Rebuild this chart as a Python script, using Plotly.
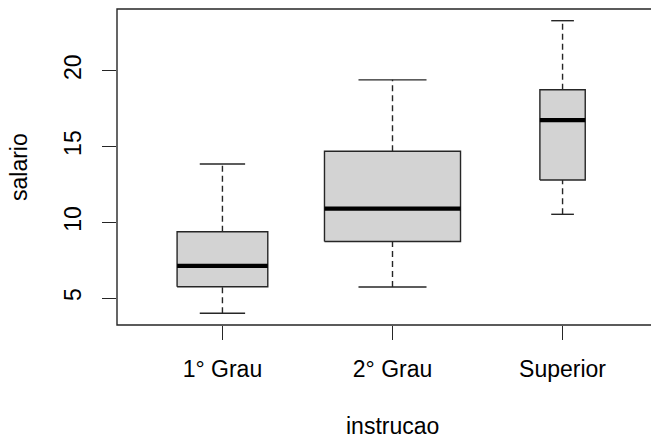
import math
import plotly.graph_objects as go

# Data (milsa): salario by instrucao
categories = ["1° Grau", "2° Grau", "Superior"]
sal_1grau = [4.00, 4.56, 5.25, 6.26, 6.66, 6.86, 7.39, 7.44, 8.95, 9.80, 12.00, 13.85]
sal_2grau = [5.73, 7.59, 8.12, 8.46, 8.74, 9.13, 9.35, 9.77, 10.76, 11.06, 11.59,
             13.23, 13.60, 14.69, 14.71, 15.99, 16.61, 19.40]
sal_superior = [10.53, 12.79, 16.22, 17.26, 18.75, 23.30]
groups = [sal_1grau, sal_2grau, sal_superior]
y_ticks = [5, 10, 15, 20]


def fivenum(v):
    x = sorted(v)
    n = len(x)
    n4 = math.floor((n + 3) / 2) / 2
    d = [1, n4, (n + 1) / 2, n + 1 - n4, n]
    return [0.5 * (x[math.floor(di - 1)] + x[math.ceil(di - 1)]) for di in d]


def box_stats(v):
    mn, q1, med, q3, mx = fivenum(v)
    iqr = q3 - q1
    lo = min(t for t in v if t >= q1 - 1.5 * iqr)
    hi = max(t for t in v if t <= q3 + 1.5 * iqr)
    return lo, q1, med, q3, hi


FONT = "Liberation Sans, Arial, Helvetica, sans-serif"
LINE = "#262626"
nmax = max(len(g) for g in groups)

fig = go.Figure()
for i, g in enumerate(groups):
    c = i + 1
    lo, q1, med, q3, hi = box_stats(g)
    hw = 0.8 * len(g) / nmax / 2
    sw = hw / 2
    # whiskers (dashed)
    fig.add_trace(go.Scatter(x=[c, c, None, c, c], y=[lo, q1, None, q3, hi], mode="lines",
                             line=dict(color=LINE, width=1.4, dash="6px,4px"),
                             hoverinfo="skip", showlegend=False))
    # staples
    fig.add_trace(go.Scatter(x=[c - sw, c + sw, None, c - sw, c + sw], y=[lo, lo, None, hi, hi],
                             mode="lines", line=dict(color=LINE, width=1.4),
                             hoverinfo="skip", showlegend=False))
    # box
    fig.add_trace(go.Scatter(x=[c - hw, c + hw, c + hw, c - hw, c - hw], y=[q1, q1, q3, q3, q1],
                             mode="lines", fill="toself", fillcolor="#d3d3d3",
                             line=dict(color=LINE, width=1.4),
                             hoverinfo="skip", showlegend=False))
    # median
    fig.add_trace(go.Scatter(x=[c - hw, c + hw], y=[med, med], mode="lines",
                             line=dict(color="black", width=4.2),
                             hoverinfo="skip", showlegend=False))

allv = [t for g in groups for t in g]
ymin, ymax = min(allv), max(allv)
pad = 0.04 * (ymax - ymin)
xlim = (0.5 - 0.04 * 3, 3.5 + 0.04 * 3)

# page has an 8px body margin: figure occupies page pixels 8..659 x 8..438
OFF = 8
W, H = 659 - OFF, 438 - OFF
ml, mt = 117 - OFF, 9 - OFF
plot_bottom = 325 - OFF
mb = H - plot_bottom
plot_w_full = 551  # R plot region width (extends past image edge)
plot_w = W - ml
plot_h = plot_bottom - mt
px_per_unit = plot_w_full / (xlim[1] - xlim[0])
x_right = xlim[0] + plot_w / px_per_unit

fig.update_layout(
    width=W, height=H,
    margin=dict(l=ml, r=0, t=mt, b=mb, pad=0),
    paper_bgcolor="white", plot_bgcolor="white",
    font=dict(family=FONT, size=23, color="black"),
    showlegend=False,
    xaxis=dict(range=[xlim[0], x_right], tickvals=[1, 2, 3], ticktext=categories,
               ticks="outside", ticklen=14, tickwidth=1.4, tickcolor=LINE,
               showgrid=False, zeroline=False, showline=False,
               ticklabelstandoff=9,
               tickfont=dict(family=FONT, size=23, color="black")),
    yaxis=dict(range=[ymin - pad, ymax + pad], tickvals=y_ticks,
               ticks="outside", ticklen=14, tickwidth=1.4, tickcolor=LINE,
               showgrid=False, zeroline=False, showline=False, tickangle=-90,
               ticklabelstandoff=12,
               tickfont=dict(family=FONT, size=23, color="black")),
    shapes=[dict(type="rect", xref="paper", yref="paper", x0=0, x1=plot_w_full / plot_w,
                 y0=0, y1=1, line=dict(color=LINE, width=1.4), fillcolor="rgba(0,0,0,0)",
                 layer="above")],
    annotations=[
        dict(text="salario", xref="paper", yref="paper", x=(19 - 117) / plot_w, y=0.5,
             xanchor="center", yanchor="middle", textangle=-90, showarrow=False,
             borderpad=0, font=dict(family=FONT, size=23, color="black")),
        dict(text="instrucao", xref="paper", yref="paper",
             x=(plot_w_full / 2) / plot_w, y=-(426 - 325) / plot_h,
             xanchor="center", yanchor="middle", showarrow=False,
             borderpad=0, font=dict(family=FONT, size=23, color="black")),
    ],
)

fig.write_html("out.html")
